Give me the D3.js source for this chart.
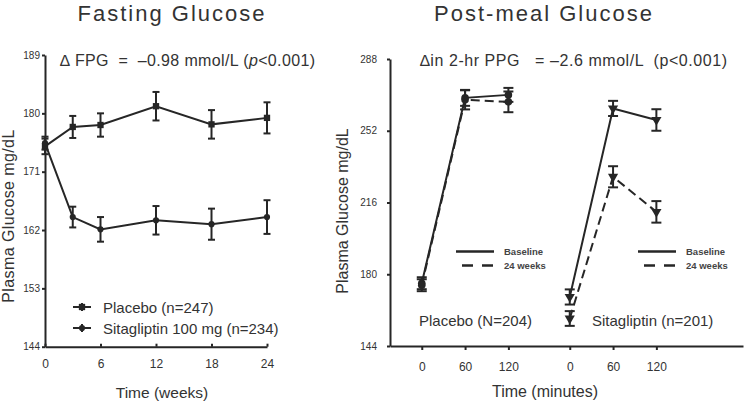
<!DOCTYPE html>
<html>
<head>
<meta charset="utf-8">
<script src="https://cdn.jsdelivr.net/npm/d3@7"></script>
<style>
  body { margin: 0; background: #fff; }
  text { font-family: "Liberation Sans", Arial, sans-serif; fill: #333; }
</style>
</head>
<body>
<div id="container"></div>
<script>
let w = 746;
let h = 405;

// fasting glucose (mg/dL) by week
const weeks = [0, 3, 6, 12, 18, 24];
const placeboFPG = [174.9, 177.9, 178.2, 181.1, 178.3, 179.3];
const placeboFPGErr = [1.2, 1.7, 1.8, 2.2, 2.2, 2.4];
const sitaFPG = [175.4, 164.0, 162.1, 163.5, 162.9, 164.0];
const sitaFPGErr = [1.0, 1.6, 1.9, 2.2, 2.4, 2.6];
const fpgTicks = [144, 153, 162, 171, 180, 189];
const weekTicks = [0, 6, 12, 18, 24];

// post-meal glucose (mg/dL) by minute, two groups side by side
const minutes = [0, 60, 120];
const ppgPlaceboBase = [175.5, 268.5, 270.0];
const ppgPlaceboBaseErr = [3.0, 4.0, 3.5];
const ppgPlacebo24 = [174.5, 267.5, 266.5];
const ppgPlacebo24Err = [3.0, 4.8, 5.2];
const ppgSitaBase = [168.6, 263.2, 257.4];
const ppgSitaBaseErr = [3.8, 3.8, 5.4];
const ppgSita24 = [157.8, 228.9, 211.3];
const ppgSita24Err = [3.7, 5.3, 5.4];
const ppgTicks = [144, 180, 216, 252, 288];
const minuteTickLabels = ["0", "60", "120", "0", "60", "120"];

const ink = "#262626";

let viz = d3.select("#container")
  .append("svg")
    .attr("width", w)
    .attr("height", h)
    .style("background-color", "#fff");

// ---------- left panel ----------
let xL = d3.scaleLinear().domain([0, 24]).range([45, 267]);
let yL = d3.scaleLinear().domain([144, 189]).range([346.7, 55]);

viz.append("text").attr("x", 172).attr("y", 21)
  .attr("text-anchor", "middle").style("font-size", "22px").style("letter-spacing", "2px")
  .text("Fasting Glucose");

let axL = viz.append("g").attr("transform", "translate(45,0)")
  .call(d3.axisLeft(yL).tickValues(fpgTicks).tickSize(3).tickSizeOuter(0).tickPadding(2));
let axLB = viz.append("g").attr("transform", "translate(0,346.7)")
  .call(d3.axisBottom(xL).tickValues(weekTicks).tickSize(3).tickSizeOuter(0).tickPadding(10));
axL.selectAll("text").style("font-size", "10px");
axLB.selectAll("text").style("font-size", "12px");
axLB.selectAll(".tick line").attr("y2", -3);

viz.append("text").attr("transform", "translate(14,216) rotate(-90)")
  .attr("text-anchor", "middle").style("font-size", "16px").style("letter-spacing", "0.4px")
  .text("Plasma Glucose mg/dL");
viz.append("text").attr("x", 162).attr("y", 398)
  .attr("text-anchor", "middle").style("font-size", "15.5px").text("Time (weeks)");

let ann1 = viz.append("text").attr("x", 60).attr("y", 66).style("font-size", "16px")
  .style("white-space", "pre")
  .attr("textLength", 255).attr("lengthAdjust", "spacing");
ann1.append("tspan").text("\u2206 FPG  =  \u20130.98 mmol/L (");
ann1.append("tspan").style("font-style", "italic").text("p");
ann1.append("tspan").text("<0.001)");

// ---------- right panel ----------
const groupOffset = 205;
let xR = d3.scaleLinear().domain([-44, 445]).range([390, 743]);
let yR = d3.scaleLinear().domain([144, 288]).range([346, 59]);
let minuteTicks = minutes.concat(minutes.map(m => m + groupOffset));

viz.append("text").attr("x", 544).attr("y", 21)
  .attr("text-anchor", "middle").style("font-size", "22px").style("letter-spacing", "2px")
  .text("Post-meal Glucose");

let axR = viz.append("g").attr("transform", "translate(390,0)")
  .call(d3.axisLeft(yR).tickValues(ppgTicks).tickSize(3).tickSizeOuter(0).tickPadding(10));
let axRB = viz.append("g").attr("transform", "translate(0,346)")
  .call(d3.axisBottom(xR).tickValues(minuteTicks).tickSize(4).tickSizeOuter(0).tickPadding(12)
    .tickFormat((d, i) => minuteTickLabels[i]));
axR.selectAll("text").style("font-size", "10px");
axRB.selectAll("text").style("font-size", "12px");

viz.append("text").attr("transform", "translate(348,211) rotate(-90)")
  .attr("text-anchor", "middle").style("font-size", "16px").text("Plasma Glucose mg/dL");
viz.append("text").attr("x", 545).attr("y", 397)
  .attr("text-anchor", "middle").style("font-size", "16px").text("Time (minutes)");

viz.append("text").attr("x", 420).attr("y", 66).style("font-size", "16px")
  .style("white-space", "pre")
  .attr("textLength", 307).attr("lengthAdjust", "spacing")
  .text("\u2206in 2-hr PPG   = \u20132.6 mmol/L  (p<0.001)");

// axis styling
viz.selectAll(".domain").attr("stroke", ink).attr("stroke-width", 2);
viz.selectAll(".tick line").attr("stroke", ink).attr("stroke-width", 2);
viz.selectAll(".tick text").style("fill", "#333");

// ---------- series drawing ----------
function drawSeries(xs, ys, errs, x, y, opts) {
  let pts = xs.map((d, i) => ({ x: d, y: ys[i], e: errs[i] }));
  let g = viz.append("g");
  g.append("path")
    .datum(pts)
    .attr("d", d3.line().x(d => x(d.x)).y(d => y(d.y)))
    .attr("fill", "none")
    .attr("stroke", ink)
    .attr("stroke-width", 2)
    .attr("stroke-dasharray", opts.dash || null);
  let bars = g.selectAll(".err").data(pts).enter().append("g");
  bars.append("line")
    .attr("x1", d => x(d.x)).attr("x2", d => x(d.x))
    .attr("y1", d => y(d.y - d.e)).attr("y2", d => y(d.y + d.e))
    .attr("stroke", ink).attr("stroke-width", 2);
  [-1, 1].forEach(s => {
    bars.append("line")
      .attr("x1", d => x(d.x) - opts.cap).attr("x2", d => x(d.x) + opts.cap)
      .attr("y1", d => y(d.y + s * d.e)).attr("y2", d => y(d.y + s * d.e))
      .attr("stroke", ink).attr("stroke-width", 2);
  });
  g.selectAll(".mark").data(pts).enter().append("path")
    .attr("d", d3.symbol().type(opts.symbol).size(opts.size))
    .attr("transform", d => "translate(" + x(d.x) + "," + y(d.y) + ")" + (opts.rot ? " rotate(180)" : ""))
    .attr("fill", ink);
}

// left
drawSeries(weeks, placeboFPG, placeboFPGErr, xL, yL, { cap: 3.5, symbol: d3.symbolSquare, size: 40 });
drawSeries(weeks, sitaFPG, sitaFPGErr, xL, yL, { cap: 3.5, symbol: d3.symbolCircle, size: 30 });

// right
drawSeries(minutes, ppgPlaceboBase, ppgPlaceboBaseErr, xR, yR, { cap: 5, symbol: d3.symbolCircle, size: 45 });
drawSeries(minutes, ppgPlacebo24, ppgPlacebo24Err, xR, yR, { cap: 5, symbol: d3.symbolCircle, size: 45, dash: "9,5" });
let shifted = minutes.map(m => m + groupOffset);
drawSeries(shifted, ppgSitaBase, ppgSitaBaseErr, xR, yR, { cap: 5, symbol: d3.symbolTriangle, size: 45, rot: true });
drawSeries(shifted, ppgSita24, ppgSita24Err, xR, yR, { cap: 5, symbol: d3.symbolTriangle, size: 45, rot: true, dash: "9,5" });

// ---------- legends ----------
const fpgLegend = [
  { label: "Placebo (n=247)", y: 307, symbol: d3.symbolSquare, size: 40 },
  { label: "Sitagliptin 100 mg (n=234)", y: 328, symbol: d3.symbolCircle, size: 30 }
];
fpgLegend.forEach(d => {
  viz.append("line").attr("x1", 73).attr("x2", 91).attr("y1", d.y).attr("y2", d.y)
    .attr("stroke", ink).attr("stroke-width", 2);
  viz.append("line").attr("x1", 82).attr("x2", 82).attr("y1", d.y - 4).attr("y2", d.y + 4)
    .attr("stroke", ink).attr("stroke-width", 2);
  viz.append("path").attr("d", d3.symbol().type(d.symbol).size(d.size)())
    .attr("transform", "translate(82," + d.y + ")").attr("fill", ink);
  viz.append("text").attr("x", 103).attr("y", d.y + 5.5).style("font-size", "15px").text(d.label);
});

const ppgLegendX = [456, 638];
const ppgLegendLabels = ["Baseline", "24 weeks"];
ppgLegendX.forEach(lx => {
  viz.append("line").attr("x1", lx).attr("x2", lx + 38).attr("y1", 251.5).attr("y2", 251.5)
    .attr("stroke", ink).attr("stroke-width", 2.5);
  viz.append("line").attr("x1", lx + 6).attr("x2", lx + 38).attr("y1", 265.5).attr("y2", 265.5)
    .attr("stroke", ink).attr("stroke-width", 2.5).attr("stroke-dasharray", "11,9");
  viz.append("text").attr("x", lx + 48).attr("y", 254.5).style("font-size", "9.5px")
    .style("font-weight", "bold").style("fill", "#444").text(ppgLegendLabels[0]);
  viz.append("text").attr("x", lx + 48).attr("y", 268.5).style("font-size", "9.5px")
    .style("font-weight", "bold").style("fill", "#444").text(ppgLegendLabels[1]);
});

viz.append("text").attr("x", 419).attr("y", 326).style("font-size", "15px").text("Placebo (N=204)");
viz.append("text").attr("x", 592).attr("y", 326).style("font-size", "15px").text("Sitagliptin (n=201)");
</script>
</body>
</html>
